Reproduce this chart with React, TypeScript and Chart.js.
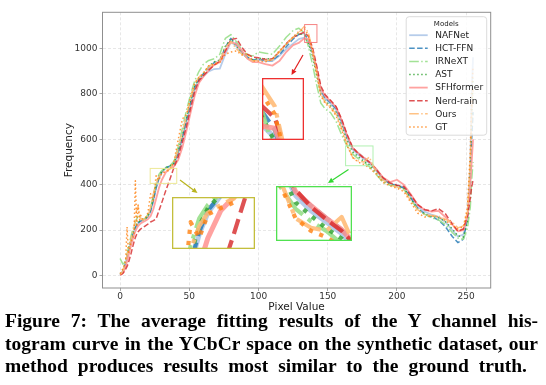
import React, { useEffect, useRef } from 'react';
import { Chart, registerables } from 'chart.js';
Chart.register(...registerables);

// ---------- data ----------
const pixelValues = [0,1,2,3,4,5,6,7,8,9,10,11,12,13,14,15,16,18,20,22,24,26,28,30,33,36,39,42,45,48,51,54,57,60,64,68,72,76,80,84,88,92,96,100,105,110,115,120,125,129,133,136,139,142,145,148,152,156,160,164,168,172,176,180,185,190,195,200,205,210,215,220,225,230,235,240,244,248,251,253,254,255];

const nafnet = [3,8,18,32,52,78,102,128,152,172,192,208,220,228,234,238,242,
  248,258,282,328,385,425,452,
  474,482,492,535,598,676,755,825,860,878,
  900,910,912,975,1030,1010,980,958,950,952,
  945,945,968,998,1022,
  1042,1048,1030,980,900,812,780,
  758,730,672,605,556,532,514,496,
  462,424,404,398,388,346,302,282,268,258,236,200,
  172,180,260,480,800,962];

const hctFfn = [4,9,19,34,56,82,108,134,158,178,198,212,224,232,238,241,244,
  249,260,284,332,388,428,455,
  475,482,495,545,612,690,768,835,868,888,
  918,938,948,1005,1045,1018,986,962,950,952,
  948,948,972,1008,1042,
  1062,1066,1040,985,905,818,785,
  762,735,680,612,560,540,520,502,
  468,428,404,396,385,342,296,272,258,245,215,172,
  145,160,250,400,600,720];

const irnext = [75,62,50,55,70,95,122,150,178,200,218,235,250,265,262,250,246,
  252,268,300,355,410,445,462,
  476,484,505,570,650,730,800,860,900,930,
  948,955,975,1045,1062,1030,995,972,968,985,
  980,975,1010,1050,1080,
  1090,1070,1010,930,840,760,735,
  718,680,620,570,535,515,500,480,
  445,410,398,395,380,335,290,270,255,245,225,190,
  165,160,210,300,420,500];

const ast = [6,12,24,40,62,88,115,140,164,184,202,216,226,233,238,241,244,
  250,262,290,340,398,435,458,
  475,482,496,550,615,695,772,838,870,890,
  922,942,950,1010,1042,1012,980,958,950,958,
  955,955,985,1020,1050,
  1068,1060,1025,968,882,800,770,
  748,720,660,594,545,524,504,488,
  455,418,400,396,384,338,292,272,262,255,238,205,
  175,170,240,460,700,870];

const sfhformer = [2,5,12,24,40,62,86,112,136,158,178,195,208,218,225,230,234,
  240,248,262,292,338,385,420,
  455,472,482,510,565,640,720,795,850,875,
  905,928,940,985,1030,1020,990,955,940,940,
  932,925,945,985,1015,
  1025,1045,1042,995,912,825,792,
  768,742,685,618,562,540,520,502,
  470,432,412,422,400,358,312,290,282,285,258,225,
  195,200,260,400,500,600];

const nerdRain = [3,6,10,18,28,40,56,78,100,125,148,168,182,193,200,206,210,
  218,226,236,242,250,285,320,
  375,425,478,525,590,660,740,815,860,880,
  905,928,945,990,1040,1045,1005,975,962,960,
  952,955,985,1022,1050,
  1062,1072,1055,1005,925,835,798,
  772,745,690,622,565,538,518,500,
  468,430,408,398,392,355,312,290,285,295,272,228,
  195,205,265,340,390,420];

const ours = [5,10,22,40,62,90,115,140,165,190,215,250,290,305,270,250,245,
  248,262,300,360,405,435,452,
  462,470,498,560,635,705,780,845,875,892,
  920,935,948,1005,1030,1000,975,960,945,950,
  948,950,985,1020,1050,
  1070,1098,1070,990,895,800,765,
  742,712,650,580,520,505,500,522,
  455,420,400,390,378,330,290,268,265,262,248,235,
  210,218,280,500,700,820];

const gt = [8,20,30,45,70,214,95,120,150,165,175,418,215,311,245,265,250,
  252,275,360,330,440,420,450,
  458,465,505,600,690,710,790,850,872,890,
  925,930,940,975,985,990,972,978,945,945,
  942,952,990,1018,1052,
  1075,1088,1060,985,890,792,760,
  738,705,642,572,520,500,490,475,
  448,410,395,385,370,322,275,258,262,258,242,222,
  205,215,300,550,800,920];

const seriesNames = ['NAFNet', 'HCT-FFN', 'IRNeXT', 'AST', 'SFHformer', 'Nerd-rain', 'Ours', 'GT'];
const seriesValues = [nafnet, hctFfn, irnext, ast, sfhformer, nerdRain, ours, gt];
const xTicks = [0, 50, 100, 150, 200, 250];
const yTicks = [0, 200, 400, 600, 800, 1000];

// zoomed source regions (data ranges)
const zoomRegions = [
  { x0: 133.3, x1: 142.2, y0: 1027, y1: 1106 },
  { x0: 21.7, x1: 40.9, y0: 406, y1: 472 },
  { x0: 162.9, x1: 182.7, y0: 484, y1: 571 },
];

// ---------- styles / layout ----------
const seriesStyles = [
  { color: 'rgba(174,199,232,0.9)', dash: [] as number[], width: 1.8 },
  { color: 'rgba(31,119,180,0.8)', dash: [5.5, 2.4], width: 1.5 },
  { color: 'rgba(152,223,138,0.9)', dash: [9.6, 2.4, 1.5, 2.4], width: 1.5 },
  { color: 'rgba(44,160,44,0.8)', dash: [1.5, 2.5], width: 1.5 },
  { color: 'rgba(255,152,150,0.9)', dash: [] as number[], width: 1.8 },
  { color: 'rgba(214,39,40,0.8)', dash: [5.5, 2.4], width: 1.5 },
  { color: 'rgba(255,187,120,0.9)', dash: [9.6, 2.4, 1.5, 2.4], width: 1.5 },
  { color: 'rgba(255,127,14,0.8)', dash: [1.5, 2.5], width: 1.5 },
];

const insetBoxes = [
  { x: 262, y: 78, w: 42, h: 62, border: 'rgb(238,48,48)', source: 'rgba(245,120,120,0.9)', arrowColor: 'rgb(225,30,30)', arrow: [[303, 55], [291.5, 75]] },
  { x: 172, y: 197, w: 83, h: 52, border: 'rgb(196,190,60)', source: 'rgba(235,230,140,0.9)', arrowColor: 'rgb(185,180,30)', arrow: [[180, 180], [197.5, 193]] },
  { x: 276, y: 186, w: 76, h: 55, border: 'rgb(80,225,80)', source: 'rgba(170,240,170,0.9)', arrowColor: 'rgb(50,215,50)', arrow: [[348.5, 169.5], [328, 183]] },
];

const FONT = '"DejaVu Sans", sans-serif';

function makeDatasets(k: number) {
  return seriesNames.map((name, i) => ({
    label: name,
    data: seriesValues[i].map((v, j) => ({ x: pixelValues[j], y: v })),
    borderColor: seriesStyles[i].color,
    backgroundColor: seriesStyles[i].color,
    borderWidth: seriesStyles[i].width * k,
    borderDash: seriesStyles[i].dash.map((d) => d * k),
    pointRadius: 0,
    tension: 0,
    fill: false,
    borderJoinStyle: 'round' as const,
    order: seriesNames.length - i,
  }));
}

function drawArrow(ctx: CanvasRenderingContext2D, p0: number[], p1: number[], color: string) {
  const [x0, y0] = p0;
  const [x1, y1] = p1;
  const ang = Math.atan2(y1 - y0, x1 - x0);
  const hl = 5.5, hw = 2.6;
  const bx = x1 - hl * Math.cos(ang), by = y1 - hl * Math.sin(ang);
  ctx.save();
  ctx.strokeStyle = color;
  ctx.fillStyle = color;
  ctx.lineWidth = 1.2;
  ctx.setLineDash([]);
  ctx.beginPath();
  ctx.moveTo(x0, y0);
  ctx.lineTo(bx, by);
  ctx.stroke();
  ctx.beginPath();
  ctx.moveTo(x1, y1);
  ctx.lineTo(bx + hw * Math.sin(ang), by - hw * Math.cos(ang));
  ctx.lineTo(bx - hw * Math.sin(ang), by + hw * Math.cos(ang));
  ctx.closePath();
  ctx.fill();
  ctx.restore();
}

const overlayPlugin = {
  id: 'overlay',
  afterDraw(chart: any) {
    const { ctx, chartArea: a, scales } = chart;
    const xs = scales.x, ys = scales.y;
    ctx.save();
    zoomRegions.forEach((r, i) => {
      const b = insetBoxes[i];
      const x1 = xs.getPixelForValue(r.x0), x2 = xs.getPixelForValue(r.x1);
      const y1 = ys.getPixelForValue(r.y1), y2 = ys.getPixelForValue(r.y0);
      ctx.strokeStyle = b.source;
      ctx.lineWidth = 1;
      ctx.setLineDash([]);
      ctx.strokeRect(x1, y1, x2 - x1, y2 - y1);
      drawArrow(ctx, b.arrow[0], b.arrow[1], b.arrowColor);
    });
    ctx.strokeStyle = '#8f8f8f';
    ctx.lineWidth = 1;
    ctx.setLineDash([]);
    ctx.strokeRect(a.left, a.top, a.right - a.left, a.bottom - a.top);
    const lx = a.right - 84.5, ly = a.top + 4.4, lw = 80.5, lh = 118.5;
    ctx.beginPath();
    if ((ctx as any).roundRect) (ctx as any).roundRect(lx, ly, lw, lh, 3);
    else ctx.rect(lx, ly, lw, lh);
    ctx.fillStyle = 'rgba(255,255,255,0.8)';
    ctx.fill();
    ctx.strokeStyle = 'rgba(215,215,215,0.9)';
    ctx.lineWidth = 1;
    ctx.stroke();
    ctx.fillStyle = '#222';
    ctx.textAlign = 'center';
    ctx.textBaseline = 'middle';
    ctx.font = '7px ' + FONT;
    ctx.fillText('Models', lx + 40, ly + 7);
    ctx.textAlign = 'left';
    ctx.font = '9px ' + FONT;
    seriesNames.forEach((name, i) => {
      const y = ly + 18.5 + 13.1 * i;
      const st = seriesStyles[i];
      ctx.save();
      ctx.strokeStyle = st.color;
      ctx.lineWidth = st.width;
      ctx.setLineDash(st.dash);
      ctx.beginPath();
      ctx.moveTo(lx + 3, y);
      ctx.lineTo(lx + 21.5, y);
      ctx.stroke();
      ctx.restore();
      ctx.fillStyle = '#222';
      ctx.fillText(name, lx + 29, y + 0.5);
    });
    ctx.restore();
  },
};

function Inset({ idx }: { idx: number }) {
  const ref = useRef<HTMLCanvasElement>(null);
  const box = insetBoxes[idx];
  const r = zoomRegions[idx];
  useEffect(() => {
    if (!ref.current) return;
    const chart = new Chart(ref.current, {
      type: 'line',
      data: { datasets: makeDatasets(2.8) as any },
      options: {
        responsive: false,
        animation: false,
        devicePixelRatio: 1,
        layout: { padding: 0 },
        plugins: { legend: { display: false }, tooltip: { enabled: false } },
        scales: {
          x: { type: 'linear', display: false, min: r.x0, max: r.x1 },
          y: { type: 'linear', display: false, min: r.y0, max: r.y1 },
        },
      },
      plugins: [
        {
          id: 'insetBorder',
          afterDraw(c: any) {
            const ctx = c.ctx;
            ctx.save();
            ctx.strokeStyle = box.border;
            ctx.lineWidth = 1.3;
            ctx.setLineDash([]);
            ctx.strokeRect(0.65, 0.65, c.width - 1.3, c.height - 1.3);
            ctx.restore();
          },
        },
      ],
    });
    return () => chart.destroy();
  }, []);
  return (
    <canvas
      ref={ref}
      width={box.w}
      height={box.h}
      style={{ position: 'absolute', left: box.x, top: box.y, width: box.w, height: box.h, background: '#fff' }}
    />
  );
}

function MainChart() {
  const ref = useRef<HTMLCanvasElement>(null);
  useEffect(() => {
    if (!ref.current) return;
    const tickFont = { family: FONT, size: 9 };
    const titleFont = { family: FONT, size: 10.5 };
    const chart = new Chart(ref.current, {
      type: 'line',
      data: { datasets: makeDatasets(1) as any },
      options: {
        responsive: false,
        animation: false,
        devicePixelRatio: 1,
        layout: { padding: { left: 62.7, top: 12.3, right: 55.3, bottom: 6.2 } },
        plugins: { legend: { display: false }, tooltip: { enabled: false } },
        scales: {
          x: {
            type: 'linear',
            min: -12.75,
            max: 267.75,
            afterBuildTicks: (s: any) => { s.ticks = xTicks.map((value) => ({ value })); },
            afterFit: (s: any) => { s.height = 25.8; },
            grid: { color: 'rgba(0,0,0,0.12)', lineWidth: 0.8, drawTicks: true, tickLength: 3, tickColor: '#8f8f8f', tickWidth: 0.8, tickBorderDash: [] },
            border: { display: false, dash: [3, 2] },
            ticks: { font: tickFont, color: '#333', padding: 0, maxRotation: 0, autoSkip: false, callback: (v: any) => String(v) },
            title: { display: true, text: 'Pixel Value', font: titleFont, color: '#222', padding: 0 },
          },
          y: {
            type: 'linear',
            min: -55,
            max: 1160,
            afterBuildTicks: (s: any) => { s.ticks = yTicks.map((value) => ({ value })); },
            afterFit: (s: any) => { s.width = 39.8; },
            grid: { color: 'rgba(0,0,0,0.12)', lineWidth: 0.8, drawTicks: true, tickLength: 3, tickColor: '#8f8f8f', tickWidth: 0.8, tickBorderDash: [] },
            border: { display: false, dash: [3, 2] },
            ticks: { font: tickFont, color: '#333', padding: 2, autoSkip: false, callback: (v: any) => String(v) },
            title: { display: true, text: 'Frequency', font: titleFont, color: '#222', padding: 0 },
          },
        },
      },
      plugins: [overlayPlugin],
    });
    return () => chart.destroy();
  }, []);
  return <canvas ref={ref} width={546} height={320} style={{ position: 'absolute', left: 0, top: 0, width: 546, height: 320 }} />;
}

const captionLines = [
  'Figure 7: The average fitting results of the Y channel his-',
  'togram curve in the YCbCr space on the synthetic dataset, our',
  'method produces results most similar to the ground truth.',
];

export default function App() {
  return (
    <div style={{ position: 'fixed', left: 0, top: 0, width: 546, height: 385, background: '#fff', overflow: 'hidden' }}>
      <MainChart />
      {insetBoxes.map((_, i) => (
        <Inset key={i} idx={i} />
      ))}
      <div
        style={{
          position: 'absolute',
          left: 5,
          top: 310,
          width: 533,
          fontFamily: '"Liberation Serif", serif',
          fontWeight: 'bold',
          fontSize: 19.5,
          lineHeight: '22.5px',
          color: '#000',
        }}
      >
        {captionLines.map((t, i) => (
          <div
            key={i}
            style={{
              width: i === 2 ? 522 : 533,
              textAlign: 'justify',
              textAlignLast: 'justify',
              whiteSpace: 'nowrap',
            } as React.CSSProperties}
          >
            {t}
          </div>
        ))}
      </div>
    </div>
  );
}
